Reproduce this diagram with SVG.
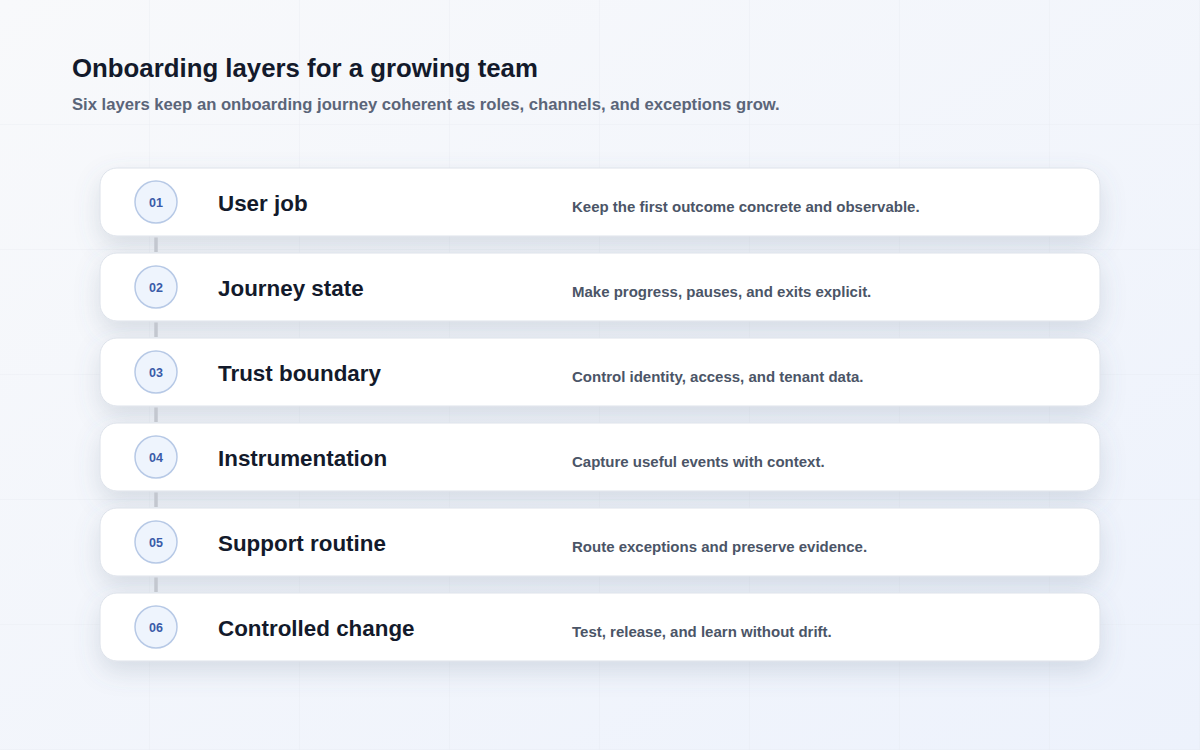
<svg xmlns="http://www.w3.org/2000/svg" width="1200" height="750" viewBox="0 0 1200 750">
  <defs>
    <linearGradient id="bg" x1="0" y1="0" x2="1" y2="1">
      <stop offset="0" stop-color="#f8f9fb"/>
      <stop offset="1" stop-color="#edf2fc"/>
    </linearGradient>
    <pattern id="grid" width="150" height="125" patternUnits="userSpaceOnUse">
      <path d="M150 0 V125 M0 125 H150" fill="none" stroke="#e3e7ef" stroke-width="1" opacity="0.6"/>
    </pattern>
    <filter id="shadow" x="-10%" y="-40%" width="120%" height="200%">
      <feDropShadow dx="0" dy="10" stdDeviation="12" flood-color="#64748b" flood-opacity="0.2"/>
    </filter>
    <style>
      .card { fill: #ffffff; stroke: #dde2ea; stroke-width: 1; filter: url(#shadow); }
      .badge { fill: #eef4fd; stroke: #b7c9e6; stroke-width: 1.5; }
      .num { font-family: "Liberation Sans", Arial, sans-serif; font-size: 12.5px; font-weight: 700; fill: #3a5ba8; text-anchor: middle; }
      .name { font-family: "Liberation Sans", Arial, sans-serif; font-size: 22.4px; font-weight: 700; fill: #131a2b; }
      .desc { font-family: "Liberation Sans", Arial, sans-serif; font-size: 15px; font-weight: 700; fill: #4b5567; }
      .title { font-family: "Liberation Sans", Arial, sans-serif; font-size: 25.8px; font-weight: 700; fill: #131a2b; }
      .sub { font-family: "Liberation Sans", Arial, sans-serif; font-size: 16.65px; font-weight: 700; fill: #5b6579; }
      .link { stroke: #c3c7cf; stroke-width: 3.5; fill: none; }
    </style>
  </defs>
  <rect width="1200" height="750" fill="url(#bg)"/>
  <rect width="1200" height="750" fill="url(#grid)"/>

  <text class="title" x="72" y="77">Onboarding layers for a growing team</text>
  <text class="sub" x="72" y="110">Six layers keep an onboarding journey coherent as roles, channels, and exceptions grow.</text>

  <g id="node-01">
    <rect class="card" x="100" y="168" width="1000" height="68" rx="17"/>
    <circle class="badge" cx="156" cy="202" r="21"/>
    <text class="num" x="156" y="206.5">01</text>
    <text class="name" x="218" y="211">User job</text>
    <text class="desc" x="572" y="212">Keep the first outcome concrete and observable.</text>
  </g>
  <g id="node-02">
    <rect class="card" x="100" y="253" width="1000" height="68" rx="17"/>
    <circle class="badge" cx="156" cy="287" r="21"/>
    <text class="num" x="156" y="291.5">02</text>
    <text class="name" x="218" y="296">Journey state</text>
    <text class="desc" x="572" y="297">Make progress, pauses, and exits explicit.</text>
  </g>
  <g id="node-03">
    <rect class="card" x="100" y="338" width="1000" height="68" rx="17"/>
    <circle class="badge" cx="156" cy="372" r="21"/>
    <text class="num" x="156" y="376.5">03</text>
    <text class="name" x="218" y="381">Trust boundary</text>
    <text class="desc" x="572" y="382">Control identity, access, and tenant data.</text>
  </g>
  <g id="node-04">
    <rect class="card" x="100" y="423" width="1000" height="68" rx="17"/>
    <circle class="badge" cx="156" cy="457" r="21"/>
    <text class="num" x="156" y="461.5">04</text>
    <text class="name" x="218" y="466">Instrumentation</text>
    <text class="desc" x="572" y="467">Capture useful events with context.</text>
  </g>
  <g id="node-05">
    <rect class="card" x="100" y="508" width="1000" height="68" rx="17"/>
    <circle class="badge" cx="156" cy="542" r="21"/>
    <text class="num" x="156" y="546.5">05</text>
    <text class="name" x="218" y="551">Support routine</text>
    <text class="desc" x="572" y="552">Route exceptions and preserve evidence.</text>
  </g>
  <g id="node-06">
    <rect class="card" x="100" y="593" width="1000" height="68" rx="17"/>
    <circle class="badge" cx="156" cy="627" r="21"/>
    <text class="num" x="156" y="631.5">06</text>
    <text class="name" x="218" y="636">Controlled change</text>
    <text class="desc" x="572" y="637">Test, release, and learn without drift.</text>
  </g>

  <g id="connectors">
    <line class="link" x1="156" y1="237.5" x2="156" y2="252"/>
    <line class="link" x1="156" y1="322.5" x2="156" y2="337"/>
    <line class="link" x1="156" y1="407.5" x2="156" y2="422"/>
    <line class="link" x1="156" y1="492.5" x2="156" y2="507"/>
    <line class="link" x1="156" y1="577.5" x2="156" y2="592"/>
  </g>
</svg>
